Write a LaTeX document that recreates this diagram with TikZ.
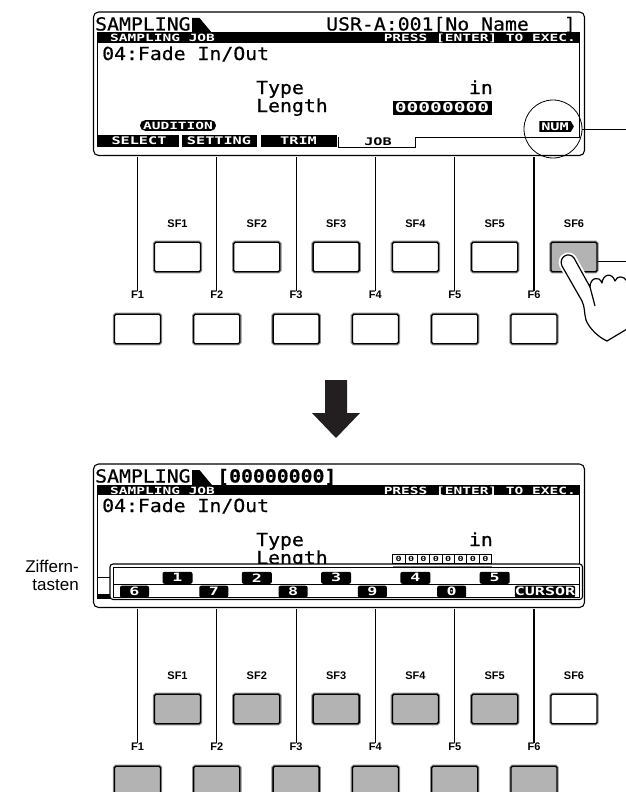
\documentclass[tikz,border=0pt]{standalone}
\usepackage{fontspec}
\setmainfont{Liberation Sans}
\newfontfamily\lcdfont[FakeStretch=1.1,FakeBold=0.6]{DejaVu Sans Mono}
\newfontfamily\lcdbold[FakeStretch=1.45]{DejaVu Sans Mono Bold}
\usetikzlibrary{shapes.symbols}
\definecolor{keygray}{RGB}{179,179,179}
\definecolor{keyrim}{RGB}{140,140,140}
\definecolor{arrowblack}{RGB}{35,31,32}
\tikzset{
  lcdtext/.style={inner sep=0pt, font=\lcdfont\fontsize{18}{18}\selectfont},
  lcdsmall/.style={inner sep=0pt, font=\lcdbold\fontsize{10}{10}\selectfont},
  tablabel/.style={inner sep=0pt, font=\lcdbold\fontsize{10.5}{10.5}\selectfont},
  keylabel/.style={inner sep=0pt, font=\bfseries\fontsize{11}{11}\selectfont},
  fkey/.style={draw=black, line width=1.3pt, rounded corners=1.5pt, minimum width=46pt, minimum height=29.5pt, inner sep=0pt, preaction={draw=keyrim, line width=3.4pt}},
  fline/.style={line width=1.2pt},
  screenframe/.style={line width=1.1pt, rounded corners=5pt},
  pill/.style={fill=black, text=white, rounded corners=5pt, inner xsep=3pt, inner ysep=1.5pt, font=\lcdbold\fontsize{10}{10}\selectfont},
  numtag/.style={signal, signal to=east, signal pointer angle=120, fill=black, text=white, inner xsep=2pt, inner ysep=1.5pt, font=\lcdbold\fontsize{10.5}{10.5}\selectfont},
  numkey/.style={fill=black, text=white, rounded corners=2pt, minimum height=12pt, inner sep=0pt, font=\lcdbold\fontsize{11.5}{11.5}\selectfont},
  hand/.style={fill=white, line width=1.2pt, line join=round, preaction={draw=white, line width=5pt}},
}
\begin{document}
\begin{tikzpicture}[x=1pt,y=-1pt]
  \useasboundingbox (0,0) rectangle (626,792);
  % both screens
  \foreach \p/\dy in {t/0,b/452}{
    \begin{scope}[shift={(0,\dy)}]
    \draw[screenframe] (93.5,12) rectangle (584.5,155.5);
    \node[lcdtext, anchor=base west] (\p-title) at (95,30.5) {SAMPLING};
    \fill (192,18) -- (199.5,18) -- (212,33) -- (192,33) -- cycle;
    \fill (97,32.5) rectangle (580,43);
    \node[lcdsmall, text=white, anchor=base west] (\p-job) at (110,42) {SAMPLING JOB};
    \node[lcdsmall, text=white, anchor=base east] (\p-exec) at (576,42) {PRESS [ENTER] TO EXEC.};
    \node[lcdtext, anchor=base west] (\p-fade) at (102,60) {04:Fade In/Out};
    \node[lcdtext, anchor=base west] (\p-type) at (256,94) {Type};
    \node[lcdtext, anchor=base west] (\p-len) at (256,112) {Length};
    \node[lcdtext, anchor=base east] (\p-in) at (493,94) {in};
    \draw[line width=1pt] (97.5,43) -- (97.5,147);
    \end{scope}
  }
  % top screen
  \node[lcdtext, anchor=base west] (t-prog) at (326,30.5) {USR-A:001[No Name};
  \node[lcdtext, anchor=base east] (t-brk) at (576,30.5) {]};
  \fill (392.5,101) rectangle (491.5,114.5);
  \node[lcdsmall, text=white, font=\lcdbold\fontsize{13.5}{13.5}\selectfont] (t-value) at (442,108) {00000000};
  \node[pill] (t-aud) at (178,125.5) {AUDITION};
  \node[numtag] (t-num) at (555,126.5) {NUM};
  \fill (97,135) rectangle (178.5,147);
  \fill (182,135) rectangle (256.5,147);
  \fill (261,135) rectangle (336.5,147);
  \node[tablabel, text=white] (t-select) at (139,141) {SELECT};
  \node[tablabel, text=white] (t-setting) at (219,141) {SETTING};
  \node[tablabel, text=white] (t-trim) at (298.5,141) {TRIM};
  \node[tablabel] (t-jobtab) at (378,142) {JOB};
  \draw[line width=1pt] (338,137) -- (338,147) -- (415,147) -- (415,137) -- (579.5,137) -- (579.5,43);
  \node[draw, circle, line width=0.8pt, minimum size=58pt, inner sep=0pt] (ring) at (553,129) {};
  \coordinate (ringend) at (626,129);
  \draw[line width=0.8pt] (ring.east) -- (ringend);
  % bottom screen
  \node[lcdtext, anchor=base west] (b-value) at (217,482.5) {\bfseries [00000000]};
  \foreach \k in {0,...,7}
    \draw[line width=0.6pt] (392.5+12.375*\k,554) rectangle ++(12.375,9)
      node[midway, inner sep=0pt, font=\lcdbold\fontsize{7}{7}\selectfont] {0};
  \draw[line width=1pt] (579.5,495) -- (579.5,564);
  \draw[line width=0.8pt] (97.5,577) -- (110,577);
  \fill (97.5,594) rectangle (110,599);
  \draw[line width=1.1pt, fill=white, rounded corners=3pt] (110,564) rectangle (582.5,599.5);
  \draw[line width=0.6pt] (113,567) rectangle (579.5,597);
  \draw[gray, line width=0.8pt] (392.5,566.5) -- (491.5,566.5);
  \draw[line width=0.8pt] (113,584) -- (579.5,584);
  \foreach \k/\d in {0/1,1/2,2/3,3/4,4/5}
    \node[numkey, minimum width=30pt, anchor=south] (b-key\d) at (177.5+79.3*\k,584) {\d};
  \foreach \k/\d in {0/6,1/7,2/8,3/9,4/0}
    \node[numkey, minimum width=29pt, anchor=north] (b-key\d) at (134.5+79.3*\k,585.5) {\d};
  \node[numkey, minimum width=52pt, anchor=north] (b-cursor) at (545,585.5) {CURSOR};
  \node[align=right, anchor=east, inner sep=0pt, font=\fontsize{17}{18}\selectfont] (ziffern) at (79,575) {Ziffern-\\tasten};
  % button rows
  \foreach \p/\dy/\sfc/\lastc/\fc in {t/0/white/keygray/white,b/452/keygray/white/keygray}{
    \begin{scope}[shift={(0,\dy)}]
    \foreach \i in {1,...,6}{
      \node[keylabel] (\p-sfl\i) at (177.5+79.3*\i-79.3,223.5) {SF\i};
      \node[keylabel] (\p-fl\i) at (137.5+79.3*\i-79.3,295) {F\i};
      \node[fkey, fill=\fc] (\p-f\i) at (137.5+79.3*\i-79.3,329) {};
      \coordinate (\p-top\i) at (137.5+79.3*\i-79.3,157);
      \draw[fline] (\p-top\i) -- (\p-fl\i.north);
    }
    \foreach \i in {1,...,5}
      \node[fkey, fill=\sfc] (\p-sf\i) at (177.5+79.3*\i-79.3,257) {};
    \node[fkey, fill=\lastc] (\p-sf6) at (574,257) {};
    \end{scope}
  }
  \coordinate (sfend) at (626,261);
  \draw[line width=0.8pt] (t-sf6.east |- sfend) -- (sfend);
  % big arrow
  \fill[arrowblack] (325,380) -- (347,380) -- (347,413) -- (360,413) -- (336,438) -- (312,413) -- (325,413) -- cycle;
  % hand
  \draw[hand] (627,329) -- (607,341)
    .. controls (598,337) and (589,328) .. (586,320)
    .. controls (584,313) and (585,307) .. (582,301)
    -- (562,266)
    .. controls (558,257) and (569,251) .. (574,258)
    -- (590,287)
    .. controls (590,278) and (599,275) .. (602,283)
    .. controls (603,274) and (612,272) .. (615,281)
    .. controls (617,275) and (624,276) .. (627,281) -- cycle;
  \draw[line width=1.2pt] (590,287) -- (595,306);
\end{tikzpicture}
\end{document}
